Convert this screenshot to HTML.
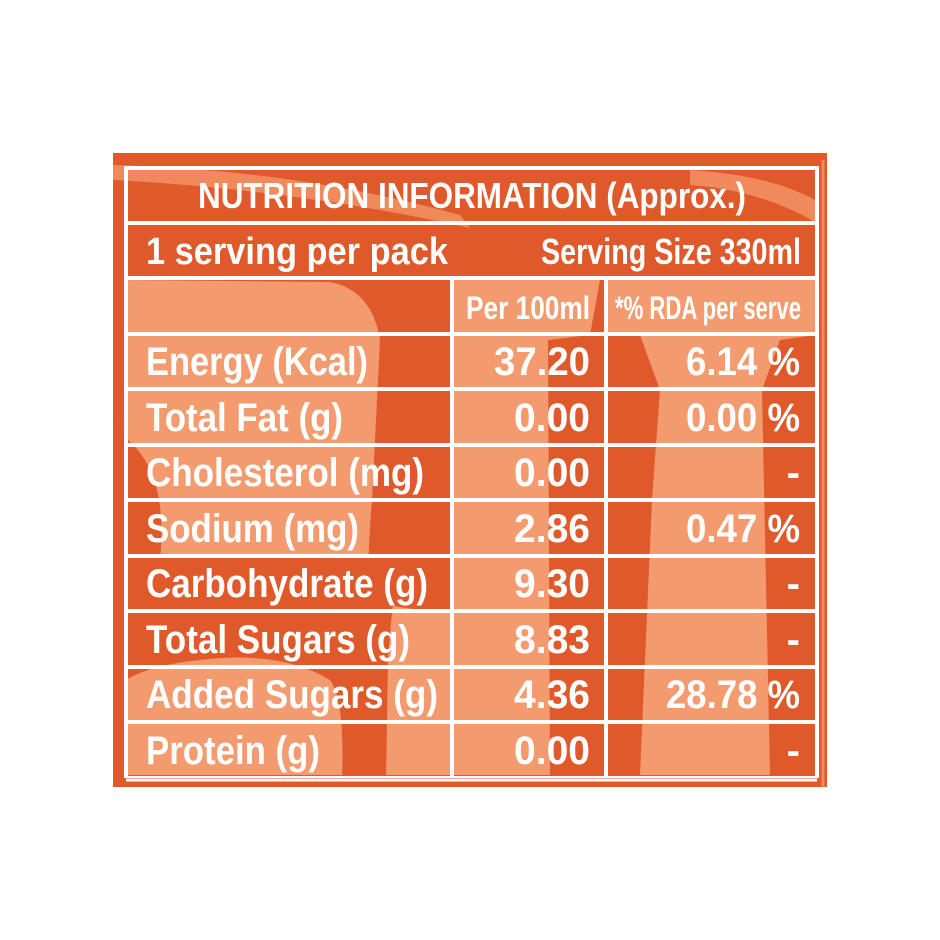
<!DOCTYPE html>
<html><head><meta charset="utf-8"><style>
html,body{margin:0;padding:0;background:#fff;}
svg{display:block;}
text{font-family:"Liberation Sans",sans-serif;font-weight:bold;fill:#fff;}
</style></head><body>
<svg width="940" height="940" viewBox="0 0 940 940" xmlns="http://www.w3.org/2000/svg">
<rect x="113" y="153" width="714" height="634" fill="#E0592B"/>
<path d="M113 165 Q300 170 460 215 L470 228 Q300 190 113 180 Z" fill="#F0895C"/>
<path d="M126 280 L330 282 Q372 290 380 340 L372 500 Q362 620 372 775 L126 775 L126 600 Q150 520 126 440 Z" fill="#F39A6E"/>
<path d="M113 430 Q170 460 160 560 Q150 610 113 620 Z" fill="#E0592B"/>
<path d="M372 600 Q400 610 452 612 L452 775 L372 775 Z" fill="#F39A6E"/>
<!-- dark swirl bottom-left -->
<path d="M126 556 L400 556 Q392 600 388 660 L386 780 L342 780 Q345 700 330 680 Q280 650 200 660 Q150 665 126 680 Z" fill="#E0592B"/>
<path d="M113 430 Q150 480 150 540 Q140 600 113 640 Z" fill="#E0592B"/>
<path d="M452 280 L600 280 L590 335 L548 340 L550 775 L452 775 Z" fill="#F39A6E"/>
<path d="M606 280 L815 280 L815 335 L780 340 L762 390 L770 775 L640 775 L652 500 L660 390 L640 335 L606 333 Z" fill="#F39A6E"/>
<path d="M690 170 Q770 175 815 200 L815 222 Q760 190 690 185 Z" fill="#F0895C"/>
<g stroke="#fff" stroke-width="4" fill="none">
<rect x="126" y="168" width="691" height="610"/>
<line x1="126" y1="223" x2="817" y2="223"/>
<line x1="126" y1="278" x2="817" y2="278"/>
<line x1="126" y1="334" x2="817" y2="334"/>
<line x1="126" y1="389" x2="817" y2="389"/>
<line x1="126" y1="445" x2="817" y2="445"/>
<line x1="126" y1="500" x2="817" y2="500"/>
<line x1="126" y1="556" x2="817" y2="556"/>
<line x1="126" y1="611" x2="817" y2="611"/>
<line x1="126" y1="667" x2="817" y2="667"/>
<line x1="126" y1="722" x2="817" y2="722"/>
<line x1="452" y1="278" x2="452" y2="778"/>
<line x1="606" y1="278" x2="606" y2="778"/>
</g>
<rect x="113" y="778" width="714" height="9" fill="#E0592B"/>
<line x1="126" y1="780" x2="817" y2="780" stroke="#fff" stroke-width="3"/>
<line x1="823" y1="160" x2="823" y2="787" stroke="#F0895C" stroke-width="3"/>
<g font-size="36">
<text x="472" y="208" text-anchor="middle" textLength="548" lengthAdjust="spacingAndGlyphs">NUTRITION INFORMATION (Approx.)</text>
<text x="146" y="264" font-size="38" textLength="302" lengthAdjust="spacingAndGlyphs">1 serving per pack</text>
<text x="801" y="264" text-anchor="end" textLength="260" lengthAdjust="spacingAndGlyphs">Serving Size 330ml</text>
<text x="590" y="319" text-anchor="end" font-size="32" textLength="124" lengthAdjust="spacingAndGlyphs">Per 100ml</text>
<text x="801" y="319" text-anchor="end" font-size="32" textLength="186" lengthAdjust="spacingAndGlyphs">*% RDA per serve</text>
</g>
<g font-size="40">
<text x="146" y="375" textLength="222" lengthAdjust="spacingAndGlyphs">Energy (Kcal)</text>
<text x="146" y="431" textLength="197" lengthAdjust="spacingAndGlyphs">Total Fat (g)</text>
<text x="146" y="486" textLength="278" lengthAdjust="spacingAndGlyphs">Cholesterol (mg)</text>
<text x="146" y="542" textLength="213" lengthAdjust="spacingAndGlyphs">Sodium (mg)</text>
<text x="146" y="597" textLength="282" lengthAdjust="spacingAndGlyphs">Carbohydrate (g)</text>
<text x="146" y="653" textLength="264" lengthAdjust="spacingAndGlyphs">Total Sugars (g)</text>
<text x="146" y="708" textLength="292" lengthAdjust="spacingAndGlyphs">Added Sugars (g)</text>
<text x="146" y="764" textLength="174" lengthAdjust="spacingAndGlyphs">Protein (g)</text>
<g text-anchor="end">
<text x="590" y="375" textLength="96" lengthAdjust="spacingAndGlyphs">37.20</text>
<text x="590" y="431" textLength="76" lengthAdjust="spacingAndGlyphs">0.00</text>
<text x="590" y="486" textLength="76" lengthAdjust="spacingAndGlyphs">0.00</text>
<text x="590" y="542" textLength="76" lengthAdjust="spacingAndGlyphs">2.86</text>
<text x="590" y="597" textLength="76" lengthAdjust="spacingAndGlyphs">9.30</text>
<text x="590" y="653" textLength="76" lengthAdjust="spacingAndGlyphs">8.83</text>
<text x="590" y="708" textLength="76" lengthAdjust="spacingAndGlyphs">4.36</text>
<text x="590" y="764" textLength="76" lengthAdjust="spacingAndGlyphs">0.00</text>
<text x="800" y="375" textLength="114" lengthAdjust="spacingAndGlyphs">6.14 %</text>
<text x="800" y="431" textLength="114" lengthAdjust="spacingAndGlyphs">0.00 %</text>
<text x="800" y="486">-</text>
<text x="800" y="542" textLength="114" lengthAdjust="spacingAndGlyphs">0.47 %</text>
<text x="800" y="597">-</text>
<text x="800" y="653">-</text>
<text x="800" y="708" textLength="134" lengthAdjust="spacingAndGlyphs">28.78 %</text>
<text x="800" y="764">-</text>
</g>
</g>
</svg>
</body></html>
